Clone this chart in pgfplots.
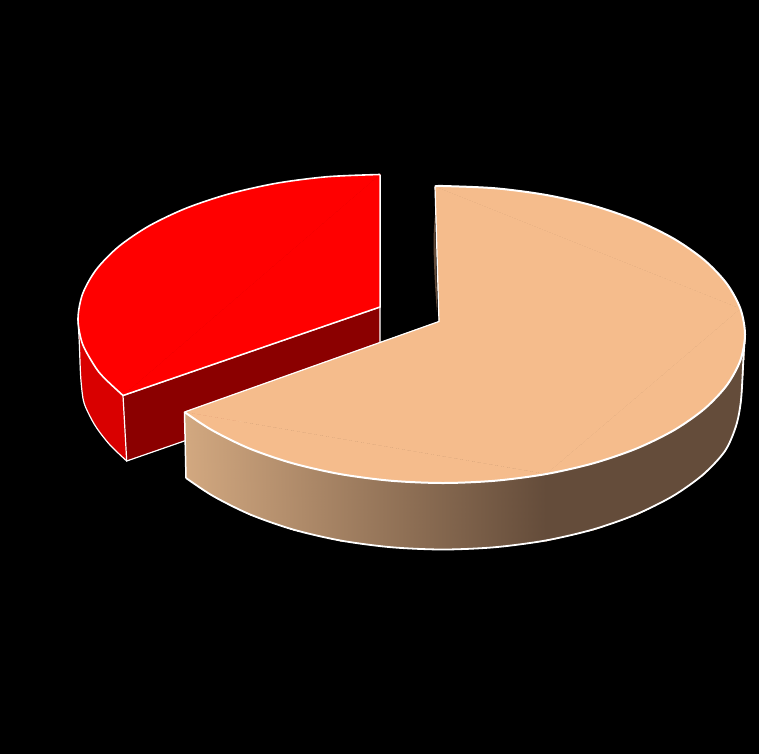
\documentclass[border=0pt]{standalone}
\usepackage{pgfplots}
\usepackage{pgfplotstable}
\pgfplotsset{compat=1.18}

\definecolor{peach}{RGB}{245,188,140}
\definecolor{redside}{RGB}{217,0,0}
\definecolor{redcut}{RGB}{139,0,0}
\definecolor{sliver}{RGB}{100,76,58}

% top rim of the large slice, clockwise from the cut at the back
\pgfplotstableread{
x y
435 186.5
443 186
495.4 188.3
546.3 195
594 205.9
637.1 220.7
674.3 239
704.5 260.2
726.8 283.7
740.4 308.7
745 334.5
740.4 360.3
726.8 385.3
704.5 408.8
674.3 430
637.1 448.3
594 463.1
546.3 474
495.4 480.7
443 483
390.6 480.7
339.7 474
292 463.1
248.9 448.3
211.7 430
184.5 412
}\peachrim

% side wall of the large slice: rim row, then base row, c = shade
\pgfplotstableread{
x y c
745 334.5 545
740.4 360.3 545
726.8 385.3 545
704.5 408.8 545
674.3 430 545
637.1 448.3 545
594 463.1 545
546.3 474 545
495.4 480.7 495
443 483 443
390.6 480.7 391
339.7 474 340
292 463.1 292
248.9 448.3 249
211.7 430 212
184.5 412 185
741 400 545
736 426 545
724.9 451.1 545
702.8 474.8 545
672.8 496.1 545
635.8 514.5 545
593 529.5 545
545.6 540.5 545
495.1 547.2 495
443 549.5 443
390.9 547.2 391
340.4 540.5 340
293 529.5 292
250.2 514.5 249
213.2 496.1 212
186 478 185
}\peachside

\pgfplotstableread{
x y
745 334.5
743.5 357
741 400
736 426
724.9 451.1
702.8 474.8
672.8 496.1
635.8 514.5
593 529.5
545.6 540.5
495.1 547.2
443 549.5
390.9 547.2
340.4 540.5
293 529.5
250.2 514.5
213.2 496.1
186 478
}\peachbase

% top rim of the small slice, anticlockwise from the cut
\pgfplotstableread{
x y
380 174.5
327.6 176.7
276.7 183.2
229 193.9
185.9 208.3
148.7 226.1
118.5 246.7
96.2 269.6
82.6 293.9
78 319
82.6 344.1
96.2 368.4
106.3 380
123 395.5
}\redrim

\begin{document}
\begin{tikzpicture}
\begin{axis}[
  scale only axis,
  width=759pt, height=754pt,
  xmin=0, xmax=759,
  ymin=0, ymax=754,
  y dir=reverse,
  hide axis,
]

% background
\addplot[fill=black, draw=none] coordinates {(0,0)(759,0)(759,754)(0,754)} -- cycle;

% small slice: outer wall, cut wall, top
\addplot[fill=redside, draw=none] coordinates {
  (78,319)(79.3,343)(80.7,377)(83.3,400)(88.3,413)(96.7,428)(110,445)(126.7,461)
  (123,395.5)(106.3,380)(96.2,368.4)(82.6,344.1)} -- cycle;
\addplot[draw=white, line width=1.2pt, smooth] coordinates {
  (78,319)(79.3,343)(80.7,377)(83.3,400)(88.3,413)(96.7,428)(110,445)(126.7,461)};
\addplot[fill=redcut, draw=white, line width=1.2pt] coordinates {
  (123,395.5)(380,307)(380,373)(126.7,461)} -- cycle;
\addplot[fill=red, draw=none, smooth] table {\redrim};
\addplot[fill=red, draw=red, line width=0.6pt] coordinates {(380,174.5)(380,307)(123,395.5)} -- cycle;
\addplot[draw=white, line width=1.6pt, smooth] table {\redrim};
\addplot[draw=white, line width=1.5pt] coordinates {(380,174.5)(380,307)(123,395.5)};

% large slice: curved wall with its shading
\addplot[surf, shader=interp, mesh/cols=16, point meta=explicit,
  colormap={wall}{rgb255=(210,168,128) rgb255=(100,76,58)},
  point meta min=185, point meta max=545,
  forget plot] table[x=x, y=y, meta=c] {\peachside};
\addplot[draw=white, line width=1.8pt, smooth] table {\peachbase};
\addplot[draw=white, line width=1.5pt] coordinates {(184.5,412)(186,478)};

% large slice: top, rim filled in three pieces because it bends past a half turn
\addplot[fill=peach, draw=none, smooth] table[skip coords between index={10}{26}] {\peachrim};
\addplot[fill=peach, draw=none, smooth] table[skip coords between index={0}{9}, skip coords between index={18}{26}] {\peachrim};
\addplot[fill=peach, draw=none, smooth] table[skip coords between index={0}{17}] {\peachrim};
\addplot[fill=peach, draw=peach, line width=0.6pt] coordinates {
  (435,186.5)(740.4,308.7)(546.3,474)(184.5,412)(439,321.5)} -- cycle;
\addplot[fill=sliver, draw=none, smooth] coordinates {(435,215)(433.5,240)(434.5,275)(437,312)(436.5,275)(435.5,240)(435,215)};
\addplot[draw=white, line width=2pt, smooth] table {\peachrim};
\addplot[draw=white, line width=1.2pt] coordinates {(435,186.5)(439,321.5)(184.5,412)};

\end{axis}
\end{tikzpicture}
\end{document}
